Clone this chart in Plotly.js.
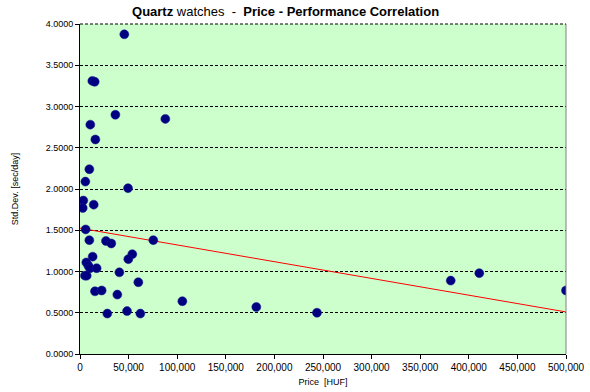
<!DOCTYPE html>
<html>
<head>
<meta charset="utf-8">
<script src="https://cdn.plot.ly/plotly-3.0.1.min.js"></script>
<style>html,body{margin:0;padding:0;background:#fff;}#chart{width:590px;height:392px;}</style>
</head>
<body>
<div id="chart"></div>
<script>
// Price [HUF]
var priceHUF = [45600, 12700, 15100, 36400, 87800, 10600, 15800, 9600, 5500, 49400,
  3400, 2800, 14100, 5800, 9600, 26700, 32200, 75400, 13000, 53800,
  49700, 6500, 8600, 10300, 17100, 5100, 6900, 40500, 60000, 15400,
  22300, 38400, 105300, 28100, 48400, 62100, 181400, 243800, 381400, 410800,
  500000];
// Std.Dev. [sec/day]
var stdDev = [3.875, 3.31, 3.30, 2.90, 2.85, 2.78, 2.60, 2.24, 2.09, 2.01,
  1.86, 1.77, 1.81, 1.51, 1.38, 1.37, 1.34, 1.38, 1.18, 1.21,
  1.15, 1.11, 1.07, 1.04, 1.04, 0.95, 0.95, 0.99, 0.87, 0.76,
  0.77, 0.72, 0.64, 0.49, 0.52, 0.49, 0.57, 0.50, 0.89, 0.98,
  0.77];
// Linear trend line endpoints
var trendX = [0, 500000];
var trendY = [1.525, 0.51];

var FONT = 'Liberation Sans, Arial, sans-serif';

var traces = [
  {x: trendX, y: trendY, type: 'scatter', mode: 'lines',
   line: {color: '#FF0000', width: 1}, hoverinfo: 'skip', showlegend: false},
  {x: priceHUF, y: stdDev, type: 'scatter', mode: 'markers',
   marker: {color: '#000080', size: 9, line: {color: '#1a1a90', width: 0.5}},
   showlegend: false}
];

var layout = {
  width: 590, height: 392,
  margin: {l: 80, r: 24, t: 24, b: 38},
  paper_bgcolor: '#FFFFFF',
  plot_bgcolor: '#CCFFCC',
  font: {family: FONT, color: '#000', size: 9},
  title: {
    text: '<b>Quartz</b> watches  -  <b>Price - Performance Correlation</b>',
    font: {family: FONT, size: 13, color: '#000'},
    x: 0.484, xref: 'container', xanchor: 'center', y: 0.97, yanchor: 'middle'
  },
  xaxis: {
    range: [0, 500000], dtick: 50000, tick0: 0, tickformat: ',d',
    showgrid: false, zeroline: false,
    showline: true, linecolor: '#000', linewidth: 1,
    ticks: 'outside', ticklen: 4, tickcolor: '#000',
    tickfont: {family: FONT, size: 10, color: '#000'},
    title: {text: 'Price  [HUF]', font: {family: FONT, size: 9, color: '#000'}, standoff: 6},
    fixedrange: true
  },
  yaxis: {
    range: [0, 4], dtick: 0.5, tick0: 0, tickformat: '.4f',
    showgrid: true, gridcolor: '#000', gridwidth: 1, griddash: '3px,2px',
    zeroline: false,
    showline: true, linecolor: '#000', linewidth: 1,
    ticks: 'outside', ticklen: 4, tickcolor: '#000',
    tickfont: {family: FONT, size: 9, color: '#000'},
    title: {text: 'Std.Dev. [sec/day]', font: {family: FONT, size: 9, color: '#000'}, standoff: 25},
    fixedrange: true
  },
  shapes: [
    {type: 'line', xref: 'paper', yref: 'paper', x0: 1, x1: 1, y0: 0, y1: 1,
     line: {color: '#808080', width: 1}},
    {type: 'line', xref: 'paper', yref: 'paper', x0: 0, x1: 1, y0: 1, y1: 1,
     line: {color: '#000', width: 1, dash: '3px,2px'}}
  ],
  showlegend: false
};

Plotly.newPlot('chart', traces, layout, {displayModeBar: false, staticPlot: true});
</script>
</body>
</html>
